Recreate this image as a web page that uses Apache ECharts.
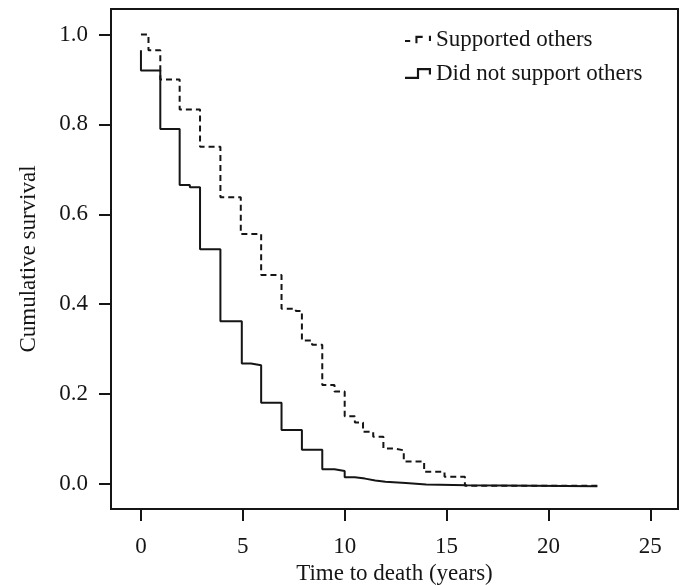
<!DOCTYPE html>
<html lang="en">
    <head>
        <meta charset="UTF-8" />
        <title>Cumulative survival</title>
        <script src="https://cdn.jsdelivr.net/npm/echarts@6/dist/echarts.min.js"></script>
    </head>
    <style>
        html,
        body {
            margin: 0;
            padding: 0;
            background: #fff;
        }
        #chart {
            width: 687px;
            height: 585px;
        }
    </style>
    <body>
        <div id="chart"></div>
        <script>
            // Kaplan-Meier style curves
            const seriesNames = ["Supported others", "Did not support others"];

            const supportTimes = [
                0, 0.37, 0.95, 1.9, 2.9, 3.9, 4.9, 5.9, 6.9, 7.6, 7.9, 8.4,
                8.9, 9.5, 10.0, 10.5, 10.9, 11.4, 11.9, 12.4, 12.9, 13.9,
                14.9, 15.9, 22.4,
            ];
            const supportSurv = [
                1.0, 0.965, 0.9, 0.833, 0.75, 0.638, 0.556, 0.465, 0.39,
                0.385, 0.319, 0.31, 0.22, 0.206, 0.151, 0.137, 0.116, 0.105,
                0.079, 0.075, 0.05, 0.027, 0.016, -0.004, -0.004,
            ];

            const noSupportTimes = [
                0, 0, 0.95, 1.9, 2.4, 2.9, 3.9, 4.95, 5.4, 5.9, 6.9, 7.9, 8.9,
                9.5, 10.0, 10.5, 11.0, 11.5, 12.0, 13.0, 14.0, 16.0, 22.4,
            ];
            const noSupportSurv = [
                0.965, 0.92, 0.79, 0.665, 0.66, 0.522, 0.362, 0.268, 0.264,
                0.181, 0.12, 0.076, 0.033, 0.029, 0.015, 0.012, 0.008, 0.005,
                0.002, -0.001, -0.003, -0.005, -0.005,
            ];

            const xTicks = [0, 5, 10, 15, 20, 25];
            const yTicks = [0, 0.2, 0.4, 0.6, 0.8, 1.0];

            const zip = (a, b) => a.map((t, i) => [t, b[i]]);

            const font = "'Liberation Serif', 'DejaVu Serif', serif";
            const ink = "#151515";
            const fs = 23;

            // legend glyphs, small step drawings made of filled bars
            const dashIcon =
                "path://M0 7H5V9H0Z M10 3H17V5H12V10H10Z M23 3H25V8H23Z";
            const solidIcon =
                "path://M0 10H11V2H24V8H22V4H13V12H0Z";

            const chart = echarts.init(document.getElementById("chart"), null, {
                renderer: "canvas",
            });

            const option = {
                animation: false,
                backgroundColor: "#fff",
                textStyle: { fontFamily: font, color: ink },
                grid: {
                    left: 111,
                    right: 9,
                    top: 9,
                    bottom: 76,
                    outerBoundsMode: "none",
                    containLabel: false,
                    show: true,
                    borderColor: ink,
                    borderWidth: 2,
                    backgroundColor: "transparent",
                },
                legend: {
                    orient: "vertical",
                    left: 400,
                    top: 23,
                    itemWidth: 26,
                    itemHeight: 12,
                    itemGap: 11,
                    textStyle: { fontFamily: font, fontSize: fs, color: ink },
                    data: [
                        { name: seriesNames[0], icon: dashIcon },
                        { name: seriesNames[1], icon: solidIcon },
                    ],
                },
                xAxis: {
                    type: "value",
                    min: -1.47,
                    max: 26.36,
                    name: "Time to death (years)",
                    nameLocation: "middle",
                    nameGap: 53,
                    nameTextStyle: { fontFamily: font, fontSize: fs, color: ink },
                    axisLine: { show: false, onZero: false },
                    splitLine: { show: false },
                    axisTick: {
                        show: true,
                        customValues: xTicks,
                        length: 12,
                        lineStyle: { color: ink, width: 2 },
                    },
                    axisLabel: {
                        customValues: xTicks,
                        margin: 26,
                        fontFamily: font,
                        fontSize: fs,
                        color: ink,
                    },
                },
                yAxis: {
                    type: "value",
                    min: -0.0556,
                    max: 1.0567,
                    name: "Cumulative survival",
                    nameLocation: "middle",
                    nameGap: 71,
                    nameRotate: 90,
                    nameTextStyle: { fontFamily: font, fontSize: fs, color: ink },
                    axisLine: { show: false, onZero: false },
                    splitLine: { show: false },
                    axisTick: {
                        show: true,
                        customValues: yTicks,
                        length: 12,
                        lineStyle: { color: ink, width: 2 },
                    },
                    axisLabel: {
                        customValues: yTicks,
                        margin: 23,
                        fontFamily: font,
                        fontSize: fs,
                        color: ink,
                        formatter: (v) => v.toFixed(1),
                    },
                },
                series: [
                    {
                        name: seriesNames[0],
                        type: "line",
                        step: "end",
                        showSymbol: false,
                        data: zip(supportTimes, supportSurv),
                        itemStyle: { color: ink },
                        lineStyle: { color: ink, width: 2, type: [6, 4] },
                    },
                    {
                        name: seriesNames[1],
                        type: "line",
                        step: "end",
                        showSymbol: false,
                        data: zip(noSupportTimes, noSupportSurv),
                        itemStyle: { color: ink },
                        lineStyle: { color: ink, width: 2 },
                    },
                ],
            };

            chart.setOption(option);
        </script>
    </body>
</html>
